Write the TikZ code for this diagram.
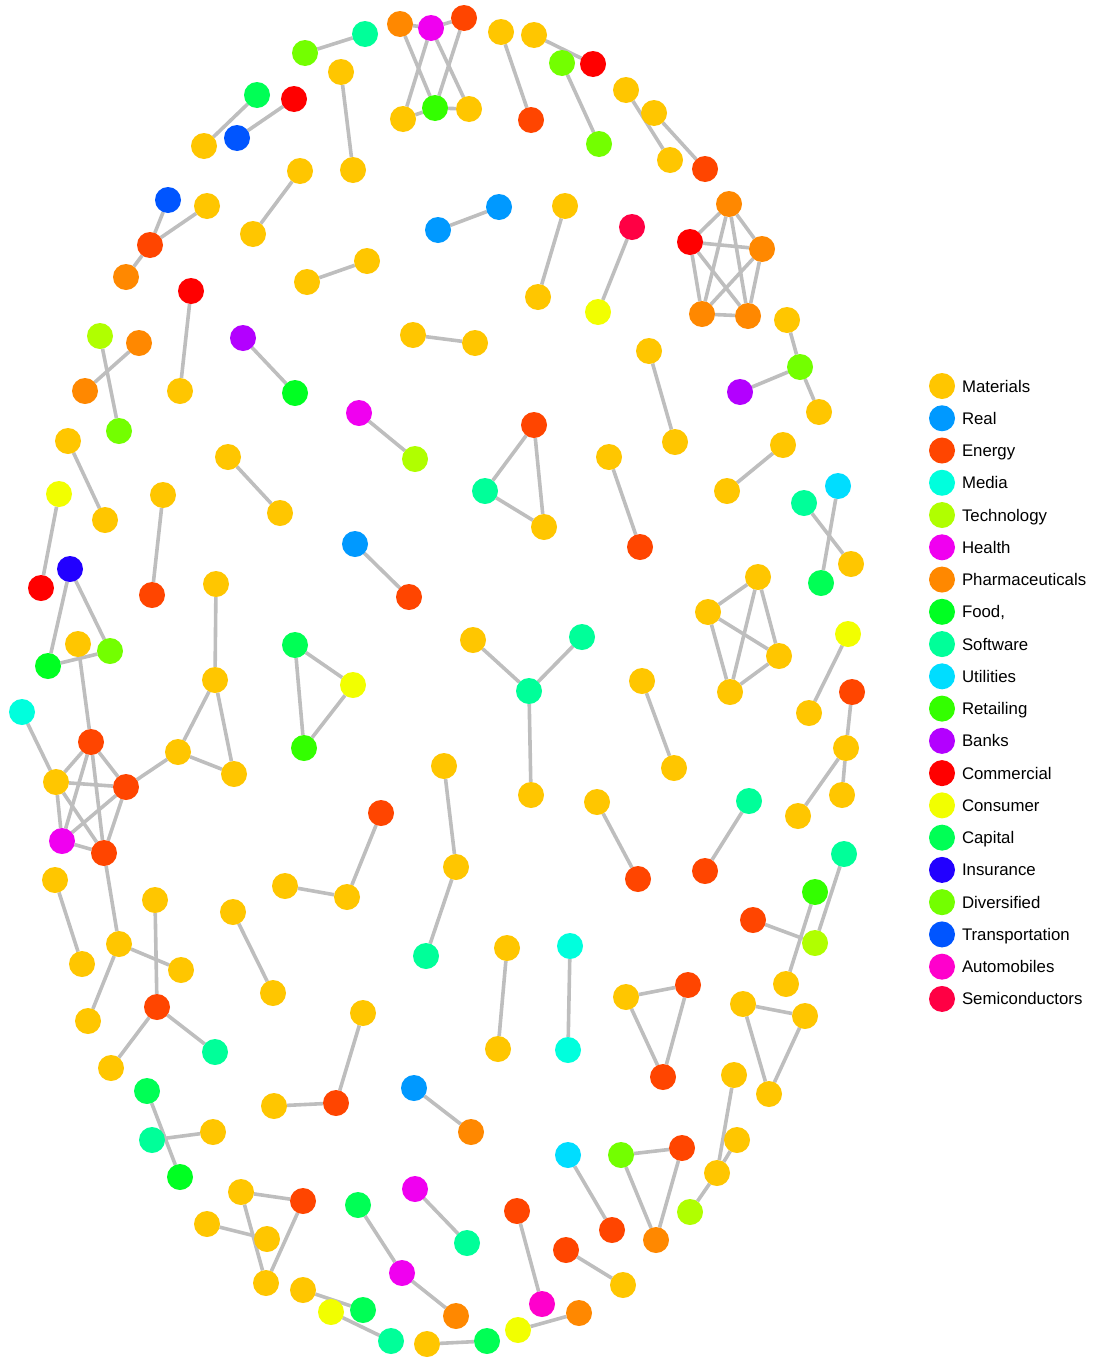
\documentclass[tikz,border=0pt]{standalone}
\usepackage{fontspec}
\setmainfont{Liberation Sans}
\usetikzlibrary{backgrounds,positioning}
\definecolor{cmat}{RGB}{255,198,0}
\definecolor{creal}{RGB}{0,153,255}
\definecolor{cener}{RGB}{255,69,0}
\definecolor{cmedia}{RGB}{0,255,221}
\definecolor{ctech}{RGB}{176,255,0}
\definecolor{cheal}{RGB}{240,0,240}
\definecolor{cpharm}{RGB}{255,136,0}
\definecolor{cfood}{RGB}{0,255,34}
\definecolor{csoft}{RGB}{0,255,153}
\definecolor{cutil}{RGB}{0,221,255}
\definecolor{cretail}{RGB}{51,255,0}
\definecolor{cbank}{RGB}{179,0,255}
\definecolor{ccomm}{RGB}{255,0,0}
\definecolor{ccons}{RGB}{242,255,0}
\definecolor{ccapi}{RGB}{0,255,85}
\definecolor{cinsu}{RGB}{34,0,255}
\definecolor{cdiv}{RGB}{115,255,0}
\definecolor{ctrans}{RGB}{0,85,255}
\definecolor{cautom}{RGB}{255,0,204}
\definecolor{csemi}{RGB}{255,0,68}
\definecolor{linkgray}{RGB}{190,190,190}
\tikzstyle{sector} = [circle, inner sep=0pt, outer sep=0pt, minimum size=26pt]
\tikzstyle{materials} = [sector, fill=cmat]
\tikzstyle{realest} = [sector, fill=creal]
\tikzstyle{energy} = [sector, fill=cener]
\tikzstyle{media} = [sector, fill=cmedia]
\tikzstyle{technology} = [sector, fill=ctech]
\tikzstyle{health} = [sector, fill=cheal]
\tikzstyle{pharma} = [sector, fill=cpharm]
\tikzstyle{food} = [sector, fill=cfood]
\tikzstyle{software} = [sector, fill=csoft]
\tikzstyle{utilities} = [sector, fill=cutil]
\tikzstyle{retailing} = [sector, fill=cretail]
\tikzstyle{banks} = [sector, fill=cbank]
\tikzstyle{commercial} = [sector, fill=ccomm]
\tikzstyle{consumer} = [sector, fill=ccons]
\tikzstyle{capital} = [sector, fill=ccapi]
\tikzstyle{insurance} = [sector, fill=cinsu]
\tikzstyle{diversified} = [sector, fill=cdiv]
\tikzstyle{transport} = [sector, fill=ctrans]
\tikzstyle{automobiles} = [sector, fill=cautom]
\tikzstyle{semis} = [sector, fill=csemi]
\tikzstyle{link} = [draw=linkgray, line width=3.6pt]
\tikzstyle{legtext} = [font=\fontsize{16.8}{20}\selectfont, text height=12pt, text depth=0pt, inner sep=0pt, outer sep=0pt]

\begin{document}
\begin{tikzpicture}[x=1pt,y=-1pt]
\useasboundingbox (0,0) rectangle (1105,1360);
% top rim
\draw (305,53) node (v1) [diversified] {};
\draw (365,34) node (v2) [software] {};
\draw (400,24) node (v3) [pharma] {};
\draw (431,28) node (v4) [health] {};
\draw (464,18) node (v5) [energy] {};
\draw (435,108) node (v6) [retailing] {};
\draw (403,119) node (v7) [materials] {};
\draw (469,109) node (v8) [materials] {};
\draw (501,32) node (v9) [materials] {};
\draw (531,120) node (v10) [energy] {};
\draw (534,35) node (v11) [materials] {};
\draw (593,64) node (v12) [commercial] {};
\draw (562,63) node (v13) [diversified] {};
\draw (599,144) node (v14) [diversified] {};
\draw (626,90) node (v15) [materials] {};
\draw (670,160) node (v16) [materials] {};
\draw (654,113) node (v17) [materials] {};
\draw (705,169) node (v18) [energy] {};
\draw (257,95) node (v19) [capital] {};
\draw (204,146) node (v20) [materials] {};
\draw (294,99) node (v21) [commercial] {};
\draw (237,138) node (v22) [transport] {};
\draw (341,72) node (v23) [materials] {};
\draw (353,170) node (v24) [materials] {};
\draw (168,200) node (v25) [transport] {};
\draw (150,245) node (v26) [energy] {};
\draw (207,206) node (v27) [materials] {};
\draw (126,277) node (v28) [pharma] {};
\draw (300,171) node (v29) [materials] {};
\draw (253,234) node (v30) [materials] {};
\draw (438,230) node (v31) [realest] {};
\draw (499,207) node (v32) [realest] {};
\draw (565,206) node (v33) [materials] {};
\draw (538,297) node (v34) [materials] {};
\draw (632,227) node (v35) [semis] {};
\draw (598,312) node (v36) [consumer] {};
\draw (729,204) node (v37) [pharma] {};
\draw (690,242) node (v38) [commercial] {};
\draw (762,249) node (v39) [pharma] {};
\draw (702,314) node (v40) [pharma] {};
\draw (748,316) node (v41) [pharma] {};
\draw (307,282) node (v42) [materials] {};
\draw (367,261) node (v43) [materials] {};
\draw (191,291) node (v44) [commercial] {};
\draw (180,391) node (v45) [materials] {};
\draw (100,336) node (v46) [technology] {};
\draw (119,431) node (v47) [diversified] {};
\draw (139,343) node (v48) [pharma] {};
\draw (85,391) node (v49) [pharma] {};
\draw (243,338) node (v50) [banks] {};
\draw (295,393) node (v51) [food] {};
\draw (413,335) node (v52) [materials] {};
\draw (475,343) node (v53) [materials] {};
\draw (649,351) node (v54) [materials] {};
\draw (675,442) node (v55) [materials] {};
\draw (787,320) node (v56) [materials] {};
\draw (800,367) node (v57) [diversified] {};
\draw (740,392) node (v58) [banks] {};
\draw (819,412) node (v59) [materials] {};
\draw (359,413) node (v60) [health] {};
\draw (415,459) node (v61) [technology] {};
% middle band
\draw (68,441) node (v62) [materials] {};
\draw (105,520) node (v63) [materials] {};
\draw (59,494) node (v64) [consumer] {};
\draw (41,588) node (v65) [commercial] {};
\draw (163,495) node (v66) [materials] {};
\draw (152,595) node (v67) [energy] {};
\draw (228,457) node (v68) [materials] {};
\draw (280,513) node (v69) [materials] {};
\draw (534,425) node (v70) [energy] {};
\draw (485,491) node (v71) [software] {};
\draw (544,527) node (v72) [materials] {};
\draw (609,457) node (v73) [materials] {};
\draw (640,547) node (v74) [energy] {};
\draw (783,445) node (v75) [materials] {};
\draw (727,491) node (v76) [materials] {};
\draw (804,503) node (v77) [software] {};
\draw (851,564) node (v78) [materials] {};
\draw (838,486) node (v79) [utilities] {};
\draw (821,583) node (v80) [capital] {};
\draw (355,544) node (v81) [realest] {};
\draw (409,597) node (v82) [energy] {};
\draw (70,569) node (v83) [insurance] {};
\draw (48,666) node (v84) [food] {};
\draw (110,651) node (v85) [diversified] {};
\draw (78,644) node (v86) [materials] {};
\draw (22,712) node (v87) [media] {};
\draw (91,742) node (v88) [energy] {};
\draw (56,782) node (v89) [materials] {};
\draw (126,787) node (v90) [energy] {};
\draw (62,841) node (v91) [health] {};
\draw (104,853) node (v92) [energy] {};
\draw (178,752) node (v93) [materials] {};
\draw (215,680) node (v94) [materials] {};
\draw (234,774) node (v95) [materials] {};
\draw (216,584) node (v96) [materials] {};
\draw (295,645) node (v97) [capital] {};
\draw (353,685) node (v98) [consumer] {};
\draw (304,748) node (v99) [retailing] {};
\draw (473,640) node (v100) [materials] {};
\draw (582,637) node (v101) [software] {};
\draw (529,691) node (v102) [software] {};
\draw (531,795) node (v103) [materials] {};
\draw (642,681) node (v104) [materials] {};
\draw (674,768) node (v105) [materials] {};
\draw (758,577) node (v106) [materials] {};
\draw (708,612) node (v107) [materials] {};
\draw (779,656) node (v108) [materials] {};
\draw (730,692) node (v109) [materials] {};
\draw (848,634) node (v110) [consumer] {};
\draw (809,713) node (v111) [materials] {};
\draw (852,692) node (v112) [energy] {};
\draw (846,748) node (v113) [materials] {};
\draw (842,795) node (v114) [materials] {};
\draw (798,816) node (v115) [materials] {};
\draw (381,813) node (v116) [energy] {};
\draw (347,897) node (v117) [materials] {};
\draw (285,886) node (v118) [materials] {};
\draw (444,766) node (v119) [materials] {};
\draw (456,867) node (v120) [materials] {};
\draw (426,956) node (v121) [software] {};
\draw (597,802) node (v122) [materials] {};
\draw (638,879) node (v123) [energy] {};
\draw (749,801) node (v124) [software] {};
\draw (705,871) node (v125) [energy] {};
\draw (844,854) node (v126) [software] {};
\draw (815,943) node (v127) [technology] {};
\draw (753,920) node (v128) [energy] {};
\draw (815,892) node (v129) [retailing] {};
\draw (786,984) node (v130) [materials] {};
% lower rim
\draw (55,880) node (v131) [materials] {};
\draw (82,964) node (v132) [materials] {};
\draw (119,944) node (v133) [materials] {};
\draw (181,970) node (v134) [materials] {};
\draw (88,1021) node (v135) [materials] {};
\draw (155,900) node (v136) [materials] {};
\draw (157,1007) node (v137) [energy] {};
\draw (215,1052) node (v138) [software] {};
\draw (111,1068) node (v139) [materials] {};
\draw (233,912) node (v140) [materials] {};
\draw (273,993) node (v141) [materials] {};
\draw (363,1013) node (v142) [materials] {};
\draw (336,1103) node (v143) [energy] {};
\draw (274,1106) node (v144) [materials] {};
\draw (507,948) node (v145) [materials] {};
\draw (498,1049) node (v146) [materials] {};
\draw (570,946) node (v147) [media] {};
\draw (568,1050) node (v148) [media] {};
\draw (626,997) node (v149) [materials] {};
\draw (688,985) node (v150) [energy] {};
\draw (663,1077) node (v151) [energy] {};
\draw (743,1004) node (v152) [materials] {};
\draw (805,1016) node (v153) [materials] {};
\draw (769,1094) node (v154) [materials] {};
\draw (734,1075) node (v155) [materials] {};
\draw (737,1140) node (v156) [materials] {};
\draw (717,1173) node (v157) [materials] {};
\draw (690,1212) node (v158) [technology] {};
\draw (147,1091) node (v159) [capital] {};
\draw (152,1140) node (v160) [software] {};
\draw (213,1132) node (v161) [materials] {};
\draw (180,1177) node (v162) [food] {};
\draw (414,1088) node (v163) [realest] {};
\draw (471,1132) node (v164) [pharma] {};
\draw (568,1155) node (v165) [utilities] {};
\draw (612,1230) node (v166) [energy] {};
\draw (621,1155) node (v167) [diversified] {};
\draw (682,1148) node (v168) [energy] {};
\draw (656,1240) node (v169) [pharma] {};
\draw (241,1192) node (v170) [materials] {};
\draw (303,1201) node (v171) [energy] {};
\draw (207,1224) node (v172) [materials] {};
\draw (267,1239) node (v173) [materials] {};
\draw (266,1283) node (v174) [materials] {};
\draw (358,1205) node (v175) [capital] {};
\draw (402,1273) node (v176) [health] {};
\draw (456,1316) node (v177) [pharma] {};
\draw (415,1189) node (v178) [health] {};
\draw (467,1243) node (v179) [software] {};
\draw (517,1211) node (v180) [energy] {};
\draw (542,1304) node (v181) [automobiles] {};
\draw (566,1250) node (v182) [energy] {};
\draw (623,1285) node (v183) [materials] {};
\draw (303,1290) node (v184) [materials] {};
\draw (363,1310) node (v185) [capital] {};
\draw (331,1312) node (v186) [consumer] {};
\draw (391,1341) node (v187) [software] {};
\draw (427,1344) node (v188) [materials] {};
\draw (487,1341) node (v189) [capital] {};
\draw (518,1330) node (v190) [consumer] {};
\draw (579,1313) node (v191) [pharma] {};
% links
\begin{scope}[on background layer, every path/.style={link}]
\draw (v1)--(v2);
\draw (v3)--(v4);
\draw (v4)--(v5);
\draw (v3)--(v6);
\draw (v4)--(v7);
\draw (v4)--(v8);
\draw (v5)--(v6);
\draw (v7)--(v6);
\draw (v6)--(v8);
\draw (v9)--(v10);
\draw (v11)--(v12);
\draw (v13)--(v14);
\draw (v15)--(v16);
\draw (v17)--(v18);
\draw (v19)--(v20);
\draw (v21)--(v22);
\draw (v23)--(v24);
\draw (v25)--(v26);
\draw (v27)--(v26);
\draw (v26)--(v28);
\draw (v29)--(v30);
\draw (v31)--(v32);
\draw (v33)--(v34);
\draw (v35)--(v36);
\draw (v37)--(v38);
\draw (v37)--(v39);
\draw (v37)--(v40);
\draw (v37)--(v41);
\draw (v38)--(v39);
\draw (v38)--(v40);
\draw (v38)--(v41);
\draw (v39)--(v40);
\draw (v39)--(v41);
\draw (v40)--(v41);
\draw (v42)--(v43);
\draw (v44)--(v45);
\draw (v46)--(v47);
\draw (v48)--(v49);
\draw (v50)--(v51);
\draw (v52)--(v53);
\draw (v54)--(v55);
\draw (v56)--(v57);
\draw (v58)--(v57);
\draw (v57)--(v59);
\draw (v60)--(v61);
\draw (v62)--(v63);
\draw (v64)--(v65);
\draw (v66)--(v67);
\draw (v68)--(v69);
\draw (v70)--(v71);
\draw (v70)--(v72);
\draw (v71)--(v72);
\draw (v73)--(v74);
\draw (v75)--(v76);
\draw (v77)--(v78);
\draw (v79)--(v80);
\draw (v81)--(v82);
\draw (v83)--(v84);
\draw (v83)--(v85);
\draw (v84)--(v85);
\draw (v86)--(v88);
\draw (v87)--(v89);
\draw (v88)--(v89);
\draw (v88)--(v90);
\draw (v88)--(v91);
\draw (v88)--(v92);
\draw (v89)--(v90);
\draw (v89)--(v91);
\draw (v89)--(v92);
\draw (v90)--(v91);
\draw (v90)--(v92);
\draw (v91)--(v92);
\draw (v90)--(v93);
\draw (v93)--(v94);
\draw (v93)--(v95);
\draw (v94)--(v95);
\draw (v96)--(v94);
\draw (v97)--(v98);
\draw (v97)--(v99);
\draw (v98)--(v99);
\draw (v100)--(v102);
\draw (v101)--(v102);
\draw (v102)--(v103);
\draw (v104)--(v105);
\draw (v106)--(v107);
\draw (v106)--(v108);
\draw (v106)--(v109);
\draw (v107)--(v108);
\draw (v107)--(v109);
\draw (v108)--(v109);
\draw (v110)--(v111);
\draw (v112)--(v113);
\draw (v113)--(v114);
\draw (v113)--(v115);
\draw (v116)--(v117);
\draw (v118)--(v117);
\draw (v119)--(v120);
\draw (v120)--(v121);
\draw (v122)--(v123);
\draw (v124)--(v125);
\draw (v126)--(v127);
\draw (v128)--(v127);
\draw (v129)--(v130);
\draw (v131)--(v132);
\draw (v92)--(v133);
\draw (v133)--(v134);
\draw (v133)--(v135);
\draw (v136)--(v137);
\draw (v137)--(v138);
\draw (v137)--(v139);
\draw (v140)--(v141);
\draw (v142)--(v143);
\draw (v143)--(v144);
\draw (v145)--(v146);
\draw (v147)--(v148);
\draw (v149)--(v150);
\draw (v149)--(v151);
\draw (v150)--(v151);
\draw (v152)--(v153);
\draw (v152)--(v154);
\draw (v153)--(v154);
\draw (v155)--(v157);
\draw (v156)--(v157);
\draw (v157)--(v158);
\draw (v159)--(v162);
\draw (v160)--(v161);
\draw (v163)--(v164);
\draw (v165)--(v166);
\draw (v167)--(v168);
\draw (v167)--(v169);
\draw (v168)--(v169);
\draw (v170)--(v171);
\draw (v170)--(v174);
\draw (v171)--(v174);
\draw (v172)--(v173);
\draw (v175)--(v176);
\draw (v176)--(v177);
\draw (v178)--(v179);
\draw (v180)--(v181);
\draw (v182)--(v183);
\draw (v184)--(v185);
\draw (v186)--(v187);
\draw (v188)--(v189);
\draw (v190)--(v191);
\end{scope}
% legend
\draw (942,386) node (l1) [materials] {};
\node (l2) [realest, below=6.26pt of l1] {};
\node (l3) [energy, below=6.26pt of l2] {};
\node (l4) [media, below=6.26pt of l3] {};
\node (l5) [technology, below=6.26pt of l4] {};
\node (l6) [health, below=6.26pt of l5] {};
\node (l7) [pharma, below=6.26pt of l6] {};
\node (l8) [food, below=6.26pt of l7] {};
\node (l9) [software, below=6.26pt of l8] {};
\node (l10) [utilities, below=6.26pt of l9] {};
\node (l11) [retailing, below=6.26pt of l10] {};
\node (l12) [banks, below=6.26pt of l11] {};
\node (l13) [commercial, below=6.26pt of l12] {};
\node (l14) [consumer, below=6.26pt of l13] {};
\node (l15) [capital, below=6.26pt of l14] {};
\node (l16) [insurance, below=6.26pt of l15] {};
\node (l17) [diversified, below=6.26pt of l16] {};
\node (l18) [transport, below=6.26pt of l17] {};
\node (l19) [automobiles, below=6.26pt of l18] {};
\node (l20) [semis, below=6.26pt of l19] {};
\node (t1) [legtext, right=7pt of l1] {Materials};
\node (t2) [legtext, right=7pt of l2] {Real};
\node (t3) [legtext, right=7pt of l3] {Energy};
\node (t4) [legtext, right=7pt of l4] {Media};
\node (t5) [legtext, right=7pt of l5] {Technology};
\node (t6) [legtext, right=7pt of l6] {Health};
\node (t7) [legtext, right=7pt of l7] {Pharmaceuticals};
\node (t8) [legtext, right=7pt of l8] {Food,};
\node (t9) [legtext, right=7pt of l9] {Software};
\node (t10) [legtext, right=7pt of l10] {Utilities};
\node (t11) [legtext, right=7pt of l11] {Retailing};
\node (t12) [legtext, right=7pt of l12] {Banks};
\node (t13) [legtext, right=7pt of l13] {Commercial};
\node (t14) [legtext, right=7pt of l14] {Consumer};
\node (t15) [legtext, right=7pt of l15] {Capital};
\node (t16) [legtext, right=7pt of l16] {Insurance};
\node (t17) [legtext, right=7pt of l17] {Diversified};
\node (t18) [legtext, right=7pt of l18] {Transportation};
\node (t19) [legtext, right=7pt of l19] {Automobiles};
\node (t20) [legtext, right=7pt of l20] {Semiconductors};
\end{tikzpicture}
\end{document}
